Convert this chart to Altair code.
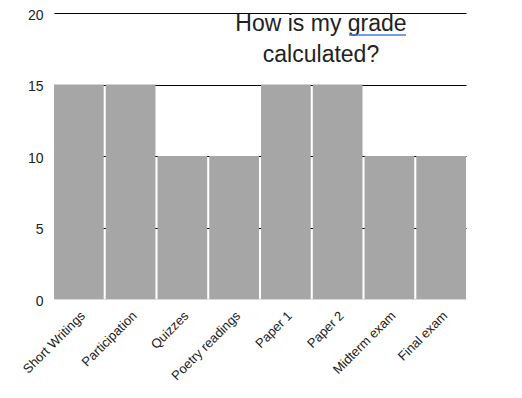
import altair as alt
import pandas as pd

categories = ["Short Writings", "Participation", "Quizzes", "Poetry readings",
              "Paper 1", "Paper 2", "Midterm exam", "Final exam"]
values = [15, 15, 10, 10, 15, 15, 10, 10]
title_lines = ["How is my grade", "calculated?"]

df = pd.DataFrame({"item": categories, "points": values})

W, H = 412, 286

bars = alt.Chart(df).mark_bar(color="#a6a6a6").encode(
    x=alt.X("item:N", sort=categories, title=None,
            scale=alt.Scale(paddingInner=0.04, paddingOuter=0.0),
            axis=alt.Axis(labelAngle=-45, labelFontSize=13, labelColor="#222",
                          labelFont="Liberation Sans", ticks=False, domain=False,
                          labelPadding=10, grid=False)),
    y=alt.Y("points:Q", title=None,
            scale=alt.Scale(domain=[0, 20]),
            axis=alt.Axis(values=[0, 5, 10, 15, 20], labelFontSize=14,
                          labelColor="#222", labelFont="Liberation Sans",
                          ticks=False, domain=False, labelPadding=11, labelOffset=2,
                          gridColor={"condition": {"test": "datum.value === 0", "value": "#d9d9d9"},
                                     "value": "#000000"},
                          gridWidth=1)),
)

title1 = alt.Chart(pd.DataFrame({"t": [title_lines[0]]})).mark_text(
    font="Liberation Sans", fontSize=23, color="#222", align="center", baseline="middle"
).encode(text="t:N", x=alt.value(267), y=alt.value(11))
title2 = alt.Chart(pd.DataFrame({"t": [title_lines[1]]})).mark_text(
    font="Liberation Sans", fontSize=23, color="#222", align="center", baseline="middle"
).encode(text="t:N", x=alt.value(267), y=alt.value(42))
underline = alt.Chart(pd.DataFrame({"a": [0]})).mark_rule(color="#4a7be0", strokeWidth=1.5).encode(
    x=alt.value(295), x2=alt.value(352), y=alt.value(22))

chart = alt.layer(bars, title1, title2, underline).properties(
    width=W, height=H,
    background="white",
    autosize=alt.AutoSizeParams(type="none"),
    padding={"left": 46, "top": 5, "right": 40, "bottom": 90},
).configure_view(stroke=None)

chart.save("out.html", embed_options={"renderer": "svg", "actions": False})
